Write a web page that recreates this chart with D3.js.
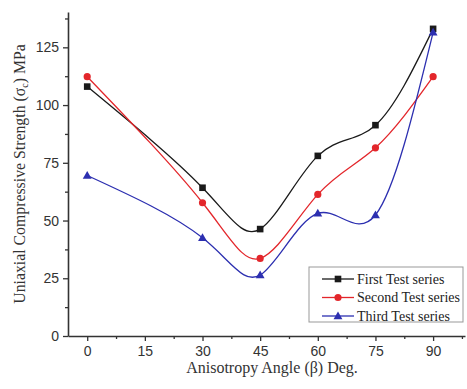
<!DOCTYPE html>
<html>
<head>
<meta charset="utf-8">
<script src="https://cdn.jsdelivr.net/npm/d3@7"></script>
<style>
  html, body { margin: 0; padding: 0; background: #fff; }
  svg { display: block; }
</style>
</head>
<body>
<svg id="chart" width="467" height="389"></svg>
<script>
// Anisotropy angles (degrees) and strengths (MPa) for each test series
const angles = [0, 30, 45, 60, 75, 90];
const firstSeries  = [108, 64.2, 46.3, 78, 91.3, 133];
const secondSeries = [112.3, 57.7, 33.6, 61.3, 81.5, 112.3];
const thirdSeries  = [69.5, 42.5, 26.4, 53.1, 52.4, 131.5];
const seriesNames  = ["First Test series", "Second Test series", "Third Test series"];
const xTicks = [0, 15, 30, 45, 60, 75, 90];
const yTicks = [0, 25, 50, 75, 100, 125];

const svg = d3.select("#chart");
const plotLeft = 68, plotRight = 465, plotTop = 12, plotBottom = 336;

const x = d3.scaleLinear().domain([-5, 98.3]).range([plotLeft, plotRight]);
const y = d3.scaleLinear().domain([0, 140.3]).range([plotBottom, plotTop]);

const axisColor = "#333";

// Y axis: major ticks with labels, minor ticks in between
svg.append("g").attr("transform", `translate(${plotLeft},0)`)
  .call(d3.axisLeft(y).tickValues(yTicks).tickSize(5).tickPadding(4).tickSizeOuter(0));
svg.append("g").attr("transform", `translate(${plotLeft},0)`)
  .call(d3.axisLeft(y).tickValues(d3.range(12.5, 140, 25)).tickSize(3).tickFormat("").tickSizeOuter(0))
  .select(".domain").remove();

// X axis
svg.append("g").attr("transform", `translate(0,${plotBottom})`)
  .call(d3.axisBottom(x).tickValues(xTicks).tickSize(5).tickPadding(5).tickSizeOuter(0));
svg.append("g").attr("transform", `translate(0,${plotBottom})`)
  .call(d3.axisBottom(x).tickValues(d3.range(7.5, 98, 15)).tickSize(3).tickFormat("").tickSizeOuter(0))
  .select(".domain").remove();

svg.selectAll(".domain").attr("stroke", axisColor).attr("stroke-width", 1.6);
svg.selectAll(".tick line").attr("stroke", axisColor).attr("stroke-width", 1.3);
svg.selectAll(".tick text")
  .attr("fill", "#333")
  .style("font-family", "'Liberation Sans', Arial, sans-serif")
  .style("font-size", "14px");

// Axis titles
svg.append("text")
  .attr("x", 272).attr("y", 373)
  .attr("text-anchor", "middle")
  .attr("fill", "#333")
  .style("font-family", "'Liberation Serif', 'Times New Roman', serif")
  .style("font-size", "16px")
  .text("Anisotropy Angle (β) Deg.");

const yTitle = svg.append("text")
  .attr("transform", "translate(25,174) rotate(-90)")
  .attr("text-anchor", "middle")
  .attr("fill", "#333")
  .style("font-family", "'Liberation Serif', 'Times New Roman', serif")
  .style("font-size", "15.8px");
yTitle.append("tspan").text("Uniaxial Compressive Strength (σ");
yTitle.append("tspan").attr("dy", 3).style("font-size", "10px").text("c");
yTitle.append("tspan").attr("dy", -3).text(") MPa");

// Series lines and markers
const colors = ["#1a1a1a", "#e3262b", "#2c2fb0"];
const allSeries = [firstSeries, secondSeries, thirdSeries];
const line = d3.line()
  .x((d, i) => x(angles[i]))
  .y(d => y(d))
  .curve(d3.curveNatural);

function drawMarker(g, k, cx, cy) {
  if (k === 0) {
    g.append("rect").attr("x", cx - 3.3).attr("y", cy - 3.3)
      .attr("width", 6.6).attr("height", 6.6).attr("fill", colors[k]);
  } else if (k === 1) {
    g.append("circle").attr("cx", cx).attr("cy", cy).attr("r", 3.6).attr("fill", colors[k]);
  } else {
    g.append("path")
      .attr("d", d3.symbol().type(d3.symbolTriangle).size(34)())
      .attr("transform", `translate(${cx},${cy + 0.6})`)
      .attr("fill", colors[k]);
  }
}

allSeries.forEach((vals, k) => {
  const g = svg.append("g");
  g.append("path").datum(vals)
    .attr("d", line)
    .attr("fill", "none")
    .attr("stroke", colors[k])
    .attr("stroke-width", 1.3);
  vals.forEach((v, i) => drawMarker(g, k, x(angles[i]), y(v)));
});

// Legend
const lg = svg.append("g");
lg.append("rect").attr("x", 309).attr("y", 267).attr("width", 154).attr("height", 55)
  .attr("fill", "#fff").attr("stroke", "#999").attr("stroke-width", 1);
seriesNames.forEach((name, k) => {
  const yy = 279 + k * 18.5;
  lg.append("line").attr("x1", 322).attr("x2", 354).attr("y1", yy).attr("y2", yy)
    .attr("stroke", colors[k]).attr("stroke-width", 1.3);
  drawMarker(lg, k, 338, yy);
  lg.append("text").attr("x", 357).attr("y", yy + 4.8)
    .attr("fill", "#222")
    .style("font-family", "'Liberation Serif', 'Times New Roman', serif")
    .style("font-size", "14px")
    .text(name);
});
</script>
</body>
</html>
